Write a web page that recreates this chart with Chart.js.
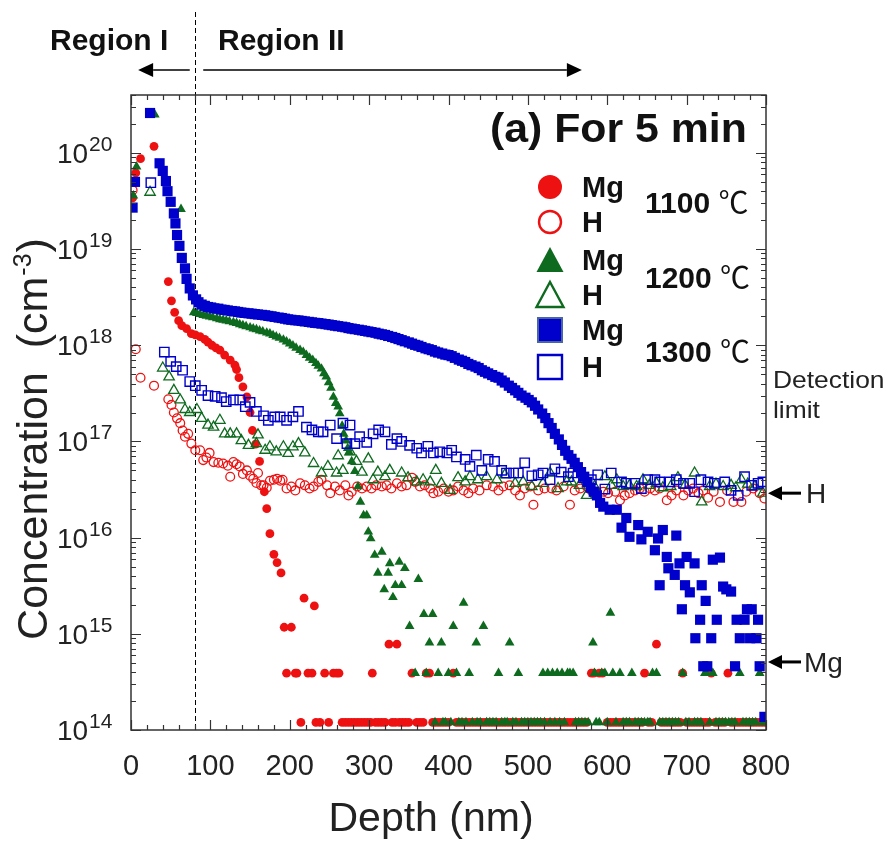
<!DOCTYPE html>
<html>
<head>
<meta charset="utf-8">
<script src="https://cdn.jsdelivr.net/npm/chart.js@4.4.1/dist/chart.umd.min.js"></script>
<style>
  html, body { margin: 0; padding: 0; background: #fff; }
  canvas { display: block; }
</style>
</head>
<body>
<canvas id="simsChart" width="890" height="843"></canvas>
<script>
// SIMS depth profiles after annealing for 5 min: [depth (nm), concentration (cm^-3)]
const floorLevel = 1.2e14;

const mg1100 = [
  [2, 3.4e19], [6, 6.2e19], [12, 8.7e19], [29, 1.17e20], [47, 4.6e18], [51, 2.9e18], [55, 2.2e18],
  [60, 1.8e18], [64, 1.6e18], [70, 1.49e18], [76, 1.32e18], [81, 1.28e18], [87, 1.23e18], [93, 1.15e18],
  [97, 1.08e18], [102, 1.0e18], [107, 9.4e17], [112, 8.9e17], [118, 7.9e17], [125, 7.0e17], [131, 6.2e17],
  [133, 5.6e17], [136, 4.6e17], [141, 3.7e17], [146, 2.9e17], [150, 2.0e17], [153, 1.3e17], [157, 9.4e16],
  [162, 6.2e16], [168, 3.0e16], [171, 2.0e16], [175, 1.1e16], [180, 6.7e15], [184, 5.5e15], [189, 4.3e15],
  [193, 1.17e15], [196, 3.9e14], [202, 1.17e15], [207, 3.9e14], [209, 3.9e14], [218, 2.35e15], [223, 3.9e14],
  [228, 3.9e14], [231, 1.95e15], [244, 3.9e14], [255, 3.9e14], [259, 3.9e14], [262, 3.9e14], [304, 3.9e14],
  [325, 7.8e14], [335, 7.8e14], [354, 3.9e14], [372, 3.9e14], [376, 3.9e14], [406, 3.9e14], [580, 3.9e14],
  [583, 3.9e14], [590, 3.9e14], [594, 3.9e14], [647, 3.9e14], [662, 7.8e14], [695, 3.9e14], [731, 3.9e14],
  [752, 3.9e14]
];
// depths where the 1100 C Mg signal sits on the floor
const mg1100Floor = [
  214, 233, 238, 249, 266, 270, 274, 278, 282, 286, 290, 294, 298, 302, 308, 312, 316, 320, 329, 333, 338,
  342, 346, 350, 360, 364, 368, 380, 384, 388, 392, 396, 400, 410, 414, 418, 422, 426, 430, 434, 438, 442,
  446, 450, 454, 458, 462, 466, 470, 474, 478, 482, 486, 490, 494, 498, 502, 506, 510, 514, 518, 522, 526,
  530, 534, 538, 542, 546, 550, 554, 558, 562, 566, 570, 574, 600, 604, 608, 612, 616, 620, 624, 628, 632,
  636, 640, 644, 652, 656, 668, 672, 676, 680, 684, 688, 692, 700, 704, 708, 712, 716, 720, 724, 728, 736,
  740, 744, 748, 756, 760, 764, 768, 772, 776, 780, 784, 788, 792, 796, 800
];

const h1100 = [
  [2, 4.1e19], [6, 9.1e17], [12, 4.6e17], [29, 3.8e17], [47, 2.75e17], [51, 2.4e17], [54, 2.0e17],
  [58, 1.74e17], [62, 1.55e17], [65, 1.3e17], [68, 1.12e17], [72, 1.2e17], [76, 9.5e16], [81, 8.1e16],
  [87, 8.1e16], [91, 6.4e16], [95, 6.8e16], [99, 7.6e16], [104, 6.1e16], [110, 6.0e16], [116, 5.9e16],
  [122, 5.6e16], [125, 4.3e16], [129, 6.1e16], [133, 5.8e16], [137, 5.5e16], [141, 4.6e16], [146, 5.0e16],
  [150, 4.4e16], [154, 4.1e16], [158, 3.7e16], [160, 4.7e16], [164, 3.5e16], [167, 3.5e16], [171, 3.3e16],
  [175, 3.9e16], [180, 4.0e16], [184, 4.1e16], [188, 3.9e16], [191, 4.0e16], [196, 3.24e16], [202, 3.4e16],
  [207, 3.1e16], [213, 3.67e16], [219, 3.5e16], [225, 3.24e16], [230, 3.4e16], [236, 3.8e16], [240, 4.0e16],
  [247, 3.5e16], [251, 2.9e16], [257, 3.4e16], [263, 3.1e16], [270, 3.5e16], [274, 2.75e16], [278, 3.0e16],
  [285, 3.4e16], [291, 3.24e16], [297, 3.4e16], [303, 3.24e16], [309, 3.5e16], [316, 3.4e16], [322, 3.5e16],
  [328, 3.24e16], [335, 3.67e16], [341, 3.4e16], [347, 3.5e16], [354, 4.2e16], [358, 3.8e16], [364, 3.4e16],
  [370, 3.5e16], [377, 3.24e16], [381, 2.9e16], [387, 3.0e16], [394, 3.24e16], [400, 3.0e16], [406, 3.1e16],
  [412, 3.4e16], [419, 3.1e16], [425, 2.9e16], [431, 3.24e16], [439, 3.1e16], [448, 3.5e16], [456, 3.4e16],
  [463, 3.1e16], [469, 3.4e16], [477, 3.5e16], [484, 3.1e16], [490, 2.75e16], [496, 3.24e16], [503, 3.4e16],
  [507, 2.2e16], [513, 3.1e16], [521, 3.24e16], [530, 3.24e16], [536, 3.1e16], [545, 3.4e16], [553, 2.2e16],
  [559, 3.1e16], [566, 3.24e16], [574, 3.4e16], [580, 3.1e16], [587, 3.0e16], [595, 3.0e16], [601, 2.9e16],
  [610, 3.0e16], [616, 2.45e16], [622, 2.75e16], [628, 2.9e16], [635, 3.1e16], [641, 3.24e16], [647, 3.0e16],
  [654, 3.24e16], [660, 3.1e16], [666, 3.24e16], [675, 2.45e16], [681, 2.75e16], [687, 3.1e16], [696, 2.75e16],
  [702, 3.1e16], [708, 3.24e16], [715, 2.9e16], [721, 3.1e16], [727, 2.6e16], [734, 3.0e16], [742, 2.35e16],
  [751, 3.1e16], [759, 2.35e16], [769, 2.35e16], [775, 3.0e16], [784, 3.24e16], [792, 2.9e16], [798, 2.55e16]
];

const mg1200 = [
  [3, 3.6e19], [7, 7.2e19], [30, 2.5e20], [63, 2.6e19], [79, 2.2e18], [83, 2.15e18], [87, 2.1e18],
  [91, 2.05e18], [95, 2.02e18], [99, 1.98e18], [103, 1.95e18], [108, 1.9e18], [112, 1.86e18], [116, 1.83e18],
  [120, 1.8e18], [124, 1.77e18], [129, 1.73e18], [133, 1.7e18], [137, 1.65e18], [141, 1.61e18], [145, 1.57e18],
  [150, 1.53e18], [154, 1.49e18], [158, 1.46e18], [162, 1.42e18], [166, 1.39e18], [171, 1.35e18], [175, 1.32e18],
  [179, 1.27e18], [183, 1.23e18], [187, 1.19e18], [192, 1.14e18], [196, 1.09e18], [200, 1.04e18], [204, 9.9e17],
  [208, 9.4e17], [213, 8.9e17], [217, 8.5e17], [221, 7.9e17], [225, 7.4e17], [229, 7.0e17], [233, 6.5e17],
  [236, 6.1e17], [240, 5.7e17], [243, 5.1e17], [246, 4.7e17], [249, 4.1e17], [252, 3.6e17], [255, 2.9e17],
  [258, 2.5e17], [261, 2.3e17], [263, 1.95e17], [266, 1.45e17], [268, 1.2e17], [271, 1.02e17], [273, 8.5e16],
  [275, 7.7e16], [278, 6.2e16], [282, 4.9e16], [286, 3.4e16], [289, 2.35e16], [293, 1.7e16], [297, 1.7e16],
  [299, 1.15e16], [302, 9.8e15], [307, 6.6e15], [311, 4.3e15], [316, 7.1e15], [319, 2.9e15], [324, 4.3e15],
  [326, 5.4e15], [330, 2.4e15], [333, 3.2e15], [338, 5.6e15], [341, 3.2e15], [345, 4.8e15], [351, 1.2e15],
  [358, 3.9e14], [362, 3.7e15], [369, 1.6e15], [372, 3.9e14], [376, 8.1e14], [380, 1.6e15], [387, 3.9e14],
  [391, 8.1e14], [400, 3.9e14], [406, 1.2e15], [410, 3.9e14], [419, 2.1e15], [426, 3.9e14], [435, 8.1e14],
  [444, 1.2e15], [463, 3.9e14], [477, 8.1e14], [488, 3.9e14], [519, 3.9e14], [525, 3.9e14], [531, 3.9e14],
  [537, 3.9e14], [543, 3.9e14], [550, 3.9e14], [553, 3.9e14], [557, 3.9e14], [582, 8.1e14], [584, 3.9e14],
  [593, 3.9e14], [597, 3.9e14], [604, 1.65e15], [607, 3.9e14], [616, 3.9e14], [631, 3.9e14], [657, 3.9e14],
  [662, 3.9e14], [695, 3.9e14], [723, 3.9e14], [725, 3.9e14], [733, 3.9e14], [767, 3.9e14], [792, 3.9e14]
];
const mg1200Floor = [
  383, 393, 396, 403, 413, 417, 422, 430, 436, 440, 448, 452, 456, 460, 467, 471, 474, 481, 485, 492, 496,
  500, 504, 508, 512, 516, 521, 528, 534, 540, 546, 560, 564, 568, 572, 576, 586, 590, 600, 611, 620, 624,
  628, 635, 639, 643, 647, 651, 654, 666, 670, 674, 678, 682, 686, 690, 699, 703, 710, 714, 718, 729, 737,
  741, 745, 749, 753, 757, 761, 771, 775, 779, 783, 787, 796, 800
];

const h1200 = [
  [24, 3.9e19], [40, 5.8e17], [48, 4.7e17], [54, 3.4e17], [62, 2.7e17], [68, 2.15e17], [74, 2.0e17],
  [83, 2.15e17], [89, 1.74e17], [97, 1.48e17], [104, 1.41e17], [112, 1.66e17], [118, 1.2e17], [125, 1.2e17],
  [133, 1.2e17], [139, 1.02e17], [148, 9.1e16], [158, 9.5e16], [160, 1.17e17], [169, 8.1e16], [175, 8.8e16],
  [183, 7.8e16], [192, 8.8e16], [198, 7.5e16], [204, 8.8e16], [211, 9.5e16], [219, 7.6e16], [230, 5.9e16],
  [240, 4.7e16], [248, 5.5e16], [259, 4.7e16], [261, 7.1e16], [267, 5.0e16], [276, 7.8e16], [284, 6.2e16],
  [291, 4.8e16], [299, 6.6e16], [305, 4.0e16], [311, 4.8e16], [320, 4.3e16], [326, 5.0e16], [341, 4.7e16],
  [349, 4.2e16], [360, 3.8e16], [368, 4.0e16], [377, 3.8e16], [384, 5.0e16], [391, 3.67e16], [402, 3.1e16],
  [412, 4.2e16], [421, 3.8e16], [427, 4.3e16], [437, 4.0e16], [448, 4.3e16], [461, 4.0e16], [471, 4.5e16],
  [484, 3.67e16], [494, 3.8e16], [505, 3.4e16], [519, 3.67e16], [528, 4.7e16], [538, 3.24e16], [549, 3.8e16],
  [555, 3.8e16], [565, 3.5e16], [574, 2.75e16], [584, 3.4e16], [597, 4.3e16], [605, 3.5e16], [612, 4.0e16],
  [620, 3.4e16], [628, 3.5e16], [637, 3.4e16], [645, 4.0e16], [653, 3.5e16], [662, 3.67e16], [670, 3.3e16],
  [680, 3.4e16], [689, 4.2e16], [698, 3.5e16], [710, 4.7e16], [719, 2.35e16], [729, 3.4e16], [737, 3.6e16],
  [746, 3.4e16], [756, 3.5e16], [762, 3.3e16], [769, 4.0e16], [777, 3.6e16], [786, 3.4e16], [796, 2.9e16]
];

const mg1300 = [
  [2, 2.7e19], [5, 5.0e19], [24, 2.6e20], [36, 7.8e19], [40, 6.5e19], [44, 5.1e19], [46, 4.0e19],
  [50, 3.1e19], [54, 2.35e19], [56, 1.85e19], [58, 1.4e19], [61, 1.08e19], [64, 8.1e18], [68, 6.3e18],
  [70, 4.9e18], [74, 3.9e18], [78, 3.3e18], [82, 3.0e18], [85, 2.8e18], [89, 2.65e18], [93, 2.57e18],
  [97, 2.5e18], [101, 2.47e18], [105, 2.42e18], [110, 2.4e18], [114, 2.35e18], [118, 2.33e18], [122, 2.3e18],
  [127, 2.27e18], [131, 2.25e18], [135, 2.22e18], [139, 2.19e18], [143, 2.17e18], [148, 2.15e18], [152, 2.13e18],
  [156, 2.11e18], [160, 2.09e18], [165, 2.07e18], [169, 2.05e18], [173, 2.02e18], [177, 2.0e18], [181, 1.97e18],
  [186, 1.94e18], [190, 1.92e18], [194, 1.89e18], [198, 1.86e18], [202, 1.84e18], [207, 1.82e18], [211, 1.81e18],
  [215, 1.79e18], [219, 1.77e18], [224, 1.75e18], [228, 1.73e18], [232, 1.71e18], [236, 1.7e18], [240, 1.68e18],
  [245, 1.66e18], [249, 1.64e18], [253, 1.62e18], [257, 1.6e18], [261, 1.58e18], [266, 1.56e18], [270, 1.54e18],
  [274, 1.51e18], [278, 1.49e18], [282, 1.47e18], [287, 1.45e18], [291, 1.43e18], [295, 1.41e18], [299, 1.39e18],
  [303, 1.37e18], [308, 1.35e18], [312, 1.32e18], [316, 1.3e18], [320, 1.28e18], [324, 1.25e18], [329, 1.22e18],
  [333, 1.19e18], [337, 1.16e18], [341, 1.13e18], [345, 1.1e18], [350, 1.07e18], [354, 1.04e18], [358, 1.01e18],
  [362, 9.9e17], [366, 9.6e17], [371, 9.3e17], [375, 9.1e17], [379, 8.9e17], [383, 8.6e17], [387, 8.4e17],
  [392, 8.2e17], [396, 8.0e17], [400, 7.9e17], [404, 7.7e17], [408, 7.4e17], [413, 7.1e17], [417, 6.9e17],
  [421, 6.7e17], [425, 6.4e17], [429, 6.2e17], [434, 6.0e17], [438, 5.8e17], [442, 5.5e17], [446, 5.3e17],
  [450, 5.1e17], [455, 4.9e17], [459, 4.7e17], [463, 4.6e17], [467, 4.3e17], [471, 4.1e17], [476, 3.8e17],
  [480, 3.6e17], [484, 3.4e17], [488, 3.2e17], [492, 3.0e17], [497, 2.85e17], [501, 2.7e17], [505, 2.55e17],
  [509, 2.35e17], [513, 2.15e17], [518, 1.95e17], [522, 1.75e17], [526, 1.55e17], [530, 1.38e17], [534, 1.2e17],
  [539, 1.05e17], [543, 9.2e16], [547, 8.0e16], [551, 7.2e16], [555, 6.6e16], [559, 6.0e16], [563, 5.4e16],
  [567, 4.8e16], [571, 4.3e16], [575, 3.8e16], [579, 3.3e16], [583, 3.0e16], [587, 2.75e16], [591, 2.3e16],
  [595, 2.1e16], [603, 1.95e16], [612, 1.95e16], [618, 1.27e16], [624, 1.6e16], [628, 1.02e16], [639, 1.35e16],
  [643, 9.6e15], [651, 1.15e16], [660, 7.4e15], [664, 9.8e15], [666, 3.2e15], [670, 1.2e16], [675, 6.3e15],
  [677, 4.8e15], [685, 4.1e15], [687, 1.05e16], [691, 5.4e15], [694, 1.8e15], [698, 3.2e15], [700, 6.3e15],
  [704, 2.7e15], [710, 5.4e15], [711, 9.0e14], [717, 1.4e15], [719, 3.2e15], [721, 4.6e14], [724, 2.2e15],
  [726, 4.6e14], [731, 9.0e14], [733, 5.9e15], [738, 1.4e15], [742, 6.2e15], [746, 3.1e15], [750, 2.9e15],
  [756, 2.75e15], [761, 4.6e14], [763, 1.4e15], [767, 9.0e14], [773, 1.4e15], [776, 1.8e15], [780, 9.0e14],
  [782, 1.8e15], [788, 9.0e14], [790, 1.4e15], [792, 4.6e14], [798, 1.37e14]
];

const h1300 = [
  [25, 4.9e19], [42, 8.5e17], [50, 6.8e17], [57, 6.0e17], [65, 5.5e17], [74, 4.2e17], [81, 3.8e17],
  [89, 3.4e17], [97, 3.0e17], [106, 2.95e17], [114, 2.85e17], [120, 2.6e17], [129, 2.7e17], [137, 2.7e17],
  [144, 2.3e17], [150, 2.55e17], [158, 2.05e17], [167, 1.85e17], [173, 1.66e17], [181, 1.8e17], [188, 1.8e17],
  [196, 1.66e17], [204, 1.8e17], [211, 2.05e17], [221, 1.41e17], [228, 1.32e17], [236, 1.26e17], [242, 1.26e17],
  [251, 1.48e17], [259, 1.07e17], [267, 1.55e17], [272, 9.5e16], [276, 1.48e17], [282, 9.5e16], [288, 1.12e17],
  [297, 9.8e16], [305, 1.2e17], [312, 1.32e17], [320, 1.26e17], [328, 9.3e16], [335, 1.07e17], [341, 1.0e17],
  [351, 9.1e16], [360, 8.5e16], [366, 7.6e16], [374, 8.9e16], [381, 7.6e16], [389, 7.8e16], [398, 7.6e16],
  [404, 8.1e16], [410, 6.9e16], [421, 6.5e16], [427, 5.5e16], [435, 7.2e16], [442, 5.0e16], [450, 6.5e16],
  [458, 6.2e16], [467, 5.0e16], [473, 4.7e16], [482, 4.7e16], [488, 4.7e16], [496, 6.0e16], [505, 4.4e16],
  [513, 4.5e16], [519, 4.7e16], [528, 4.0e16], [534, 5.2e16], [542, 4.8e16], [551, 4.3e16], [557, 4.7e16],
  [570, 4.2e16], [580, 4.0e16], [588, 4.5e16], [597, 3.2e16], [605, 4.7e16], [618, 3.8e16], [624, 3.67e16],
  [635, 3.67e16], [643, 3.24e16], [651, 4.0e16], [660, 4.0e16], [666, 3.8e16], [679, 3.8e16], [687, 4.0e16],
  [696, 3.67e16], [704, 3.67e16], [710, 3.0e16], [718, 4.0e16], [727, 3.8e16], [735, 3.67e16], [748, 3.8e16],
  [756, 3.1e16], [765, 2.75e16], [773, 4.3e16], [782, 3.5e16], [790, 3.67e16], [796, 3.8e16]
];

const depthTicks = [0, 100, 200, 300, 400, 500, 600, 700, 800];
const decadeExponents = [14, 15, 16, 17, 18, 19, 20];
const regionBoundary = 80;      // nm, dashed line
const hLimit = 2.9e16;          // detection limit of H
const mgLimit = 5.1e14;         // detection limit of Mg

const red = '#ee1111';
const green = '#0d6a1e';
const blue = '#0000cc';
const ink = '#111111';
const FONT = '"Liberation Sans", Arial, sans-serif';

function pts(list) {
    return list.map(p => ({ x: p[0], y: p[1] }));
}
function floorPts(depths) {
    return depths.map(d => ({ x: d, y: floorLevel }));
}

function text(ctx, str, x, y, font, opts) {
    opts = opts || {};
    ctx.save();
    ctx.font = font;
    ctx.fillStyle = opts.color || ink;
    ctx.textAlign = opts.align || 'left';
    ctx.textBaseline = 'alphabetic';
    ctx.translate(x, y);
    ctx.scale(opts.sx || 1, 1);
    ctx.fillText(str, 0, 0);
    ctx.restore();
}

function arrow(ctx, x1, x2, y, lw, headLen, headHalf) {
    // shaft from x1 to the tip at x2
    const dir = Math.sign(x2 - x1);
    ctx.save();
    ctx.strokeStyle = '#000';
    ctx.fillStyle = '#000';
    ctx.lineWidth = lw;
    ctx.beginPath();
    ctx.moveTo(x1, y);
    ctx.lineTo(x2 - dir * headLen, y);
    ctx.stroke();
    ctx.beginPath();
    ctx.moveTo(x2, y);
    ctx.lineTo(x2 - dir * headLen, y - headHalf);
    ctx.lineTo(x2 - dir * headLen, y + headHalf);
    ctx.closePath();
    ctx.fill();
    ctx.restore();
}

function legendMarker(ctx, shape, filled, color, cx, cy) {
    ctx.save();
    ctx.beginPath();
    if (shape === 'circle') {
        ctx.arc(cx, cy, filled ? 12 : 11, 0, Math.PI * 2);
    } else if (shape === 'triangle') {
        ctx.moveTo(cx, cy - 13);
        ctx.lineTo(cx + 13.5, cy + 12);
        ctx.lineTo(cx - 13.5, cy + 12);
        ctx.closePath();
    } else {
        ctx.rect(cx - 12, cy - 12, 24, 24);
    }
    if (filled) {
        ctx.fillStyle = color;
        ctx.fill();
        if (shape === 'rect') {
            ctx.strokeStyle = '#4a64a4';
            ctx.lineWidth = 2;
            ctx.stroke();
        }
    } else {
        ctx.strokeStyle = color;
        ctx.lineWidth = 2.4;
        ctx.stroke();
    }
    ctx.restore();
}

const decorations = {
    id: 'decorations',
    beforeDatasetsDraw(chart) {
        const { ctx, chartArea: a, scales: { x } } = chart;
        const bx = Math.round(x.getPixelForValue(regionBoundary)) + 0.5;
        ctx.save();
        ctx.strokeStyle = '#000';
        ctx.lineWidth = 1;
        ctx.setLineDash([5, 3]);
        ctx.beginPath();
        ctx.moveTo(bx, 12);
        ctx.lineTo(bx, a.bottom);
        ctx.stroke();
        ctx.restore();
    },
    afterDraw(chart) {
        const { ctx, chartArea: a, scales: { x, y } } = chart;

        // frame and inward ticks on all four sides
        ctx.save();
        ctx.strokeStyle = '#333';
        ctx.lineWidth = 1.5;
        ctx.strokeRect(a.left, a.top, a.right - a.left, a.bottom - a.top);
        ctx.lineWidth = 1.2;
        ctx.beginPath();
        for (let d = 0; d <= 800; d += 20) {
            const px = Math.round(x.getPixelForValue(d)) + 0.5;
            const len = d % 100 === 0 ? 10 : 5;
            ctx.moveTo(px, a.bottom); ctx.lineTo(px, a.bottom - len);
            ctx.moveTo(px, a.top); ctx.lineTo(px, a.top + len);
        }
        decadeExponents.forEach(e => {
            for (let m = 1; m <= 9; m++) {
                const v = m * Math.pow(10, e);
                if (v > y.max) break;
                const py = Math.round(y.getPixelForValue(v)) + 0.5;
                const len = m === 1 ? 10 : 5;
                ctx.moveTo(a.left, py); ctx.lineTo(a.left + len, py);
                ctx.moveTo(a.right, py); ctx.lineTo(a.right - len, py);
            }
        });
        ctx.stroke();
        ctx.restore();

        // y tick labels 10^n
        decadeExponents.forEach(e => {
            const py = y.getPixelForValue(Math.pow(10, e));
            text(ctx, '10', 57, py + 10, '28px ' + FONT, { color: '#222' });
            text(ctx, String(e), 89, py - 2, '21px ' + FONT, { color: '#222' });
        });

        // axis titles
        text(ctx, 'Depth (nm)', 431, 831, '41px ' + FONT, { align: 'center', color: '#222' });
        ctx.save();
        ctx.translate(47, 440);
        ctx.rotate(-Math.PI / 2);
        ctx.fillStyle = '#222';
        const mainFont = '43px ' + FONT;
        const supFont = '25px ' + FONT;
        ctx.font = mainFont;
        const w1 = ctx.measureText('Concentration  (cm').width;
        const w3 = ctx.measureText(')').width;
        ctx.font = supFont;
        const w2 = ctx.measureText('-3').width;
        let sx = -(w1 + w2 + w3) / 2;
        ctx.font = mainFont;
        ctx.fillText('Concentration  (cm', sx, 0);
        ctx.font = supFont;
        ctx.fillText('-3', sx + w1 + 1, -16);
        ctx.font = mainFont;
        ctx.fillText(')', sx + w1 + w2 + 2, 0);
        ctx.restore();

        // region annotations above the plot
        text(ctx, 'Region I', 50, 50, 'bold 30px ' + FONT);
        text(ctx, 'Region II', 218, 50, 'bold 30px ' + FONT);
        arrow(ctx, x.getPixelForValue(74), x.getPixelForValue(9), 70, 1.5, 15, 7);
        arrow(ctx, x.getPixelForValue(91), x.getPixelForValue(568), 70, 1.5, 15, 7);

        // panel title
        text(ctx, '(a) For 5 min', 490, 142, 'bold 40px ' + FONT, { sx: 1.07 });

        // legend
        const rows = [
            ['circle', true, red, 'Mg', 187],
            ['circle', false, red, 'H', 222],
            ['triangle', true, green, 'Mg', 260],
            ['triangle', false, green, 'H', 295],
            ['rect', true, blue, 'Mg', 330],
            ['rect', false, blue, 'H', 367]
        ];
        rows.forEach(r => {
            legendMarker(ctx, r[0], r[1], r[2], 550, r[4]);
            text(ctx, r[3], 582, r[4] + 10, 'bold 29px ' + FONT);
        });
        [['1100', 213], ['1200', 288], ['1300', 362]].forEach(t => {
            ctx.save();
            ctx.font = 'bold 30px ' + FONT;
            const tw = ctx.measureText(t[0] + ' ').width;
            ctx.restore();
            text(ctx, t[0] + ' ', 645, t[1], 'bold 30px ' + FONT);
            text(ctx, '\u2103', 645 + tw, t[1], '30px "Noto Sans CJK JP", ' + FONT);
        });

        // detection limits at the right edge
        text(ctx, 'Detection', 773, 388, '24px ' + FONT, { sx: 1.1, color: '#222' });
        text(ctx, 'limit', 773, 418, '24px ' + FONT, { sx: 1.1, color: '#222' });
        const hy = y.getPixelForValue(hLimit);
        const my = y.getPixelForValue(mgLimit);
        arrow(ctx, 801, a.right + 2, hy, 3, 14, 7);
        arrow(ctx, 801, a.right + 2, my, 3, 14, 7);
        text(ctx, 'H', 806, hy + 10, '28px ' + FONT, { color: '#222' });
        text(ctx, 'Mg', 804, my + 10, '28px ' + FONT, { color: '#222' });
    }
};

Chart.defaults.font.family = FONT;

new Chart(document.getElementById('simsChart').getContext('2d'), {
    type: 'scatter',
    data: {
        datasets: [
            {
                label: 'Mg 1300',
                data: pts(mg1300),
                pointStyle: 'rect',
                pointRadius: 7.2,
                backgroundColor: blue,
                borderColor: blue,
                borderWidth: 0,
                order: 0
            },
            {
                label: 'H 1300',
                data: pts(h1300),
                pointStyle: 'rect',
                pointRadius: 6.6,
                backgroundColor: 'rgba(0,0,0,0)',
                borderColor: blue,
                borderWidth: 1.4,
                order: 1
            },
            {
                label: 'Mg 1200',
                data: pts(mg1200).concat(floorPts(mg1200Floor)),
                pointStyle: 'triangle',
                pointRadius: 5.6,
                backgroundColor: green,
                borderColor: green,
                borderWidth: 0,
                order: 2
            },
            {
                label: 'H 1200',
                data: pts(h1200),
                pointStyle: 'triangle',
                pointRadius: 6,
                backgroundColor: 'rgba(0,0,0,0)',
                borderColor: green,
                borderWidth: 1.3,
                order: 3
            },
            {
                label: 'Mg 1100',
                data: pts(mg1100).concat(floorPts(mg1100Floor)),
                pointStyle: 'circle',
                pointRadius: 4.4,
                backgroundColor: red,
                borderColor: red,
                borderWidth: 0,
                order: 4
            },
            {
                label: 'H 1100',
                data: pts(h1100),
                pointStyle: 'circle',
                pointRadius: 4.4,
                backgroundColor: 'rgba(0,0,0,0)',
                borderColor: red,
                borderWidth: 1.3,
                order: 5
            }
        ]
    },
    options: {
        responsive: false,
        animation: false,
        devicePixelRatio: 1,
        layout: { padding: { left: 0, top: 95, right: 124, bottom: 0 } },
        plugins: {
            legend: { display: false },
            tooltip: { enabled: false }
        },
        scales: {
            x: {
                type: 'linear',
                min: 0,
                max: 800,
                afterFit: s => { s.height = 113; },
                afterBuildTicks: s => { s.ticks = depthTicks.map(v => ({ value: v })); },
                grid: { display: false, drawTicks: false },
                border: { display: false },
                ticks: {
                    padding: 20,
                    maxRotation: 0,
                    autoSkip: false,
                    color: '#222',
                    font: { size: 29 }
                }
            },
            y: {
                type: 'logarithmic',
                min: 1e14,
                max: 4e20,
                afterFit: s => { s.width = 131; },
                grid: { display: false, drawTicks: false },
                border: { display: false },
                ticks: { display: false }
            }
        }
    },
    plugins: [decorations]
});
</script>
</body>
</html>
